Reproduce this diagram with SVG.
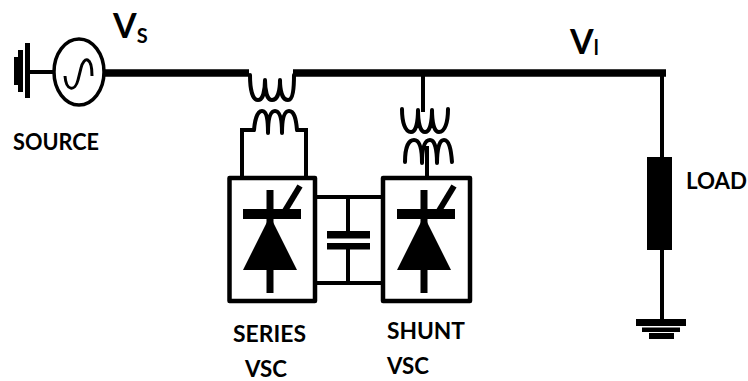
<svg xmlns="http://www.w3.org/2000/svg" width="748" height="381" viewBox="0 0 748 381">
<style>
.w{fill:none;stroke:#000;stroke-linecap:butt;stroke-linejoin:miter}
.bus{stroke-width:7.500}
.thin{stroke-width:4}
.coil{fill:none;stroke:#000;stroke-width:4;stroke-linecap:round;stroke-linejoin:round}
.box{fill:#fff;stroke:#000;stroke-width:4.500;stroke-linejoin:round}
.f{fill:#000}
text{font-family:"Lato","Liberation Sans",sans-serif;fill:#000;font-weight:700}
.lab{font-size:22px}
.v{font-size:34px}
.sub{font-size:20px}
</style>
<defs>
<g id="diode">
<rect class="f" x="-3.500" y="0" width="7" height="103"/>
<rect class="f" x="-27" y="19" width="58" height="10"/>
<path class="f" d="M0,26L27,80H-27Z"/>
<path class="w" d="M13,24L30,-4" stroke-width="6"/>
</g>
</defs>
<g id="connectors">
<path class="w thin" d="M27,72H54"/>
<path class="w bus" d="M105,73H249M293,73H666"/>
<path class="w thin" d="M242,176V130H255M306,176V130H296"/>
<path class="w thin" d="M423,73V112M427,146V176"/>
<path class="w thin" d="M317,197H381M317,283H381M348,197V232M348,248V283"/>
<path class="w thin" d="M662,73V158M662,249V320"/>
</g>
<g id="source">
<ellipse cx="79" cy="72" rx="25" ry="33" fill="#fff" stroke="#000" stroke-width="3.500"/>
<path class="w" stroke-width="3" d="M65,76C66,91 75,92 78,80L81,68C84,56 92,56 92,76"/>
<rect class="f" x="25" y="43" width="5" height="55"/>
<rect class="f" x="18" y="50" width="5" height="42"/>
<rect class="f" x="14" y="57" width="4.500" height="28"/>
<text class="lab" x="13" y="150" textLength="86" lengthAdjust="spacingAndGlyphs">SOURCE</text>
</g>
<g id="label-vs"><text class="v" x="113" y="38">V<tspan class="sub" dy="5">S</tspan></text></g>
<g id="label-vl"><text class="v" x="570" y="54">V<tspan class="sub" dy="1">l</tspan></text></g>
<g id="series-transformer">
<path class="coil" d="M250,75C250,88 252,100 258,100C263,100 265,90 265,80C265,90 267,100 272,100C278,100 280,90 280,80C280,90 282,100 288,100C293,100 294,88 294,75"/>
<path class="coil" d="M254,130C255,118 258,111 262,111C267,111 268,120 268,133C268,120 270,111 275,111C280,111 282,120 282,133C282,120 284,111 289,111C294,111 296,118 297,130"/>
</g>
<g id="shunt-transformer">
<path class="coil" d="M402,109C402,122 405,132 411,132C416,132 418,122 418,110C418,122 420,132 425,132C430,132 432,122 432,110C432,122 434,132 439,132C445,132 448,122 448,109"/>
<path class="coil" d="M405,162C405,149 408,140 414,140C420,140 422,150 422,163C422,150 424,140 430,140C435,140 437,150 437,163C437,150 439,140 444,140C449,140 451,149 452,162"/>
</g>
<g id="series-vsc">
<rect class="box" x="229.500" y="178" width="85.500" height="123"/>
<use href="#diode" x="270" y="190"/>
<text class="lab" x="233" y="342" textLength="73" lengthAdjust="spacingAndGlyphs">SERIES</text>
<text class="lab" x="245" y="377" textLength="42" lengthAdjust="spacingAndGlyphs">VSC</text>
</g>
<g id="shunt-vsc">
<rect class="box" x="383" y="178" width="87" height="123"/>
<use href="#diode" x="424" y="190"/>
<text class="lab" x="387" y="339" textLength="78" lengthAdjust="spacingAndGlyphs">SHUNT</text>
<text class="lab" x="387" y="374" textLength="42" lengthAdjust="spacingAndGlyphs">VSC</text>
</g>
<g id="capacitor">
<rect class="f" x="327" y="231" width="43" height="7.500"/>
<rect class="f" x="327" y="243" width="43" height="6.500"/>
</g>
<g id="load">
<rect class="f" x="647" y="157" width="25" height="93"/>
<text class="lab" x="686" y="189" textLength="61" lengthAdjust="spacingAndGlyphs">LOAD</text>
</g>
<g id="load-ground">
<rect class="f" x="636" y="319" width="50" height="7"/>
<rect class="f" x="642" y="327.500" width="38" height="4.500"/>
<rect class="f" x="649" y="333" width="25" height="6"/>
</g>
</svg>
